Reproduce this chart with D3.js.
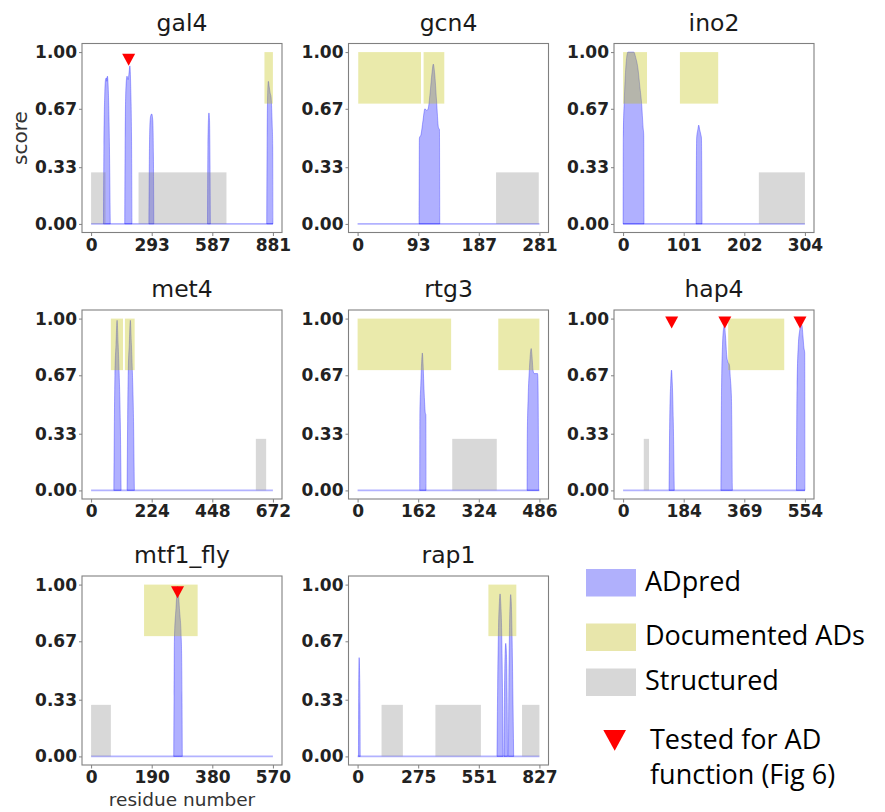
<!DOCTYPE html>
<html>
<head>
<meta charset="utf-8">
<script src="https://cdn.jsdelivr.net/npm/d3@7"></script>
<style>
  body { margin: 0; background: #fff; }
  svg { display: block; }
</style>
</head>
<body>
<svg id="chart" width="885" height="812"></svg>
<script>
// ---- data -------------------------------------------------------------
const proteins = ["gal4", "gcn4", "ino2", "met4", "rtg3", "hap4", "mtf1_fly", "rap1"];
const lengths  = [881, 281, 304, 672, 486, 554, 570, 827];

// ADpred score peaks, [residue, score]; outside the peaks the score is 0
const gal4Pred = [
  [[60,0],[62,0.45],[66,0.75],[70,0.84],[74,0.85],[76,0.83],[79,0.86],[84,0.76],[89,0.45],[93,0]],
  [[163,0],[165,0.5],[169,0.8],[174,0.86],[179,0.84],[183,0.87],[188,0.92],[192,0.8],[196,0.5],[198,0]],
  [[280,0],[282,0.35],[285,0.58],[289,0.63],[294,0.64],[299,0.6],[302,0.4],[304,0]],
  [[564,0],[566,0.45],[569,0.62],[571,0.646],[574,0.6],[576,0.4],[578,0]],
  [[851,0],[853,0.5],[856,0.78],[859,0.83],[863,0.8],[868,0.76],[872,0.74],[877,0.6],[880,0.45],[881,0]]
];
const gcn4Pred = [
  [[95,0],[95.5,0.5],[98,0.52],[101,0.6],[104,0.67],[107,0.66],[109,0.67],[112,0.76],[115,0.88],[117,0.93],[119,0.88],[122,0.72],[125,0.56],[126.5,0.55],[127,0]]
];
const ino2Pred = [
  [[0,0],[0.3,0.5],[2,0.72],[4,0.88],[6,0.97],[8,1.0],[18,1.0],[21,0.97],[25,0.9],[28,0.8],[31,0.7],[33.5,0.56],[34.5,0.52],[35,0]],
  [[122,0],[123,0.5],[125,0.55],[126.5,0.575],[128,0.55],[130,0.52],[131,0.5],[132,0]]
];
const met4Pred = [
  [[84,0],[86,0.4],[88,0.67],[92,0.85],[96,0.99],[100,0.85],[104,0.67],[108,0.4],[111,0]],
  [[133,0],[135,0.4],[137,0.67],[141,0.85],[145,0.99],[149,0.85],[153,0.67],[157,0.4],[160,0]]
];
const rtg3Pred = [
  [[166,0],[166.5,0.45],[169,0.62],[171,0.74],[173,0.8],[175,0.74],[177,0.62],[179,0.52],[181,0.45],[182.5,0.44],[183,0]],
  [[453,0],[453.5,0.3],[456,0.55],[459,0.7],[462,0.8],[464,0.826],[466,0.79],[469,0.7],[472,0.68],[481,0.68],[482,0.65],[484,0]]
];
const hap4Pred = [
  [[140,0],[142,0.4],[145,0.62],[147.5,0.7],[150,0.62],[153,0.4],[156,0]],
  [[298,0],[300,0.6],[303,0.85],[306,0.94],[309,0.96],[312,0.9],[316,0.78],[319,0.75],[324,0.73],[327,0.65],[330,0.55],[333,0]],
  [[528,0],[530,0.6],[534,0.85],[538,0.93],[542,0.965],[545,0.96],[548,0.9],[551,0.83],[553.5,0.8],[554,0]]
];
const mtf1Pred = [
  [[259,0],[260,0.35],[261,0.67],[266,0.86],[271.5,0.99],[277,0.86],[283,0.67],[285,0.35],[286,0]]
];
const rap1Pred = [
  [[4,0],[5,0.4],[7,0.575],[9,0.5],[11,0.3],[12,0]],
  [[634,0],[637,0.4],[641,0.75],[645,0.9],[648,0.946],[651,0.9],[655,0.75],[659,0.4],[662,0]],
  [[666,0],[668,0.35],[671,0.6],[674,0.658],[677,0.6],[680,0.35],[682,0]],
  [[686,0],[688,0.4],[691,0.75],[694,0.9],[696.5,0.942],[699,0.9],[702,0.75],[706,0.4],[710,0]]
];

// documented activation domains, [start, end] residues
const gal4Documented = [[840, 881]];
const gcn4Documented = [[1, 98], [102, 134]];
const ino2Documented = [[0, 40], [95, 159]];
const met4Documented = [[73, 118], [125, 161]];
const rtg3Documented = [[0, 250], [376, 486]];
const hap4Documented = [[320, 491]];
const mtf1Documented = [[166, 334]];
const rap1Documented = [[595, 722]];

// structured regions, [start, end] residues
const gal4Structured = [[0, 70], [230, 656]];
const gcn4Structured = [[214, 280]];
const ino2Structured = [[227, 304]];
const met4Structured = [[609, 647]];
const rtg3Structured = [[253, 372]];
const hap4Structured = [[63, 79]];
const mtf1Structured = [[0, 62]];
const rap1Structured = [[109, 206], [354, 561], [748, 827]];

// fragments tested for AD function, [residue, marker height]
const gal4Tested = [[182, 0.955]];
const hap4Tested = [[148, 0.977], [310, 0.977], [539, 0.977]];
const mtf1Tested = [[271, 0.955]];

const docBand = [0.7, 1.0];
const structBand = [0, 0.3];
const yTicks = [0, 0.33, 0.67, 1.0];

const legendLabels = ["ADpred", "Documented ADs", "Structured"];
const testedLabel = ["Tested for AD", "function (Fig 6)"];

const predSeries = [gal4Pred, gcn4Pred, ino2Pred, met4Pred, rtg3Pred, hap4Pred, mtf1Pred, rap1Pred];
const documentedSeries = [gal4Documented, gcn4Documented, ino2Documented, met4Documented, rtg3Documented, hap4Documented, mtf1Documented, rap1Documented];
const structuredSeries = [gal4Structured, gcn4Structured, ino2Structured, met4Structured, rtg3Structured, hap4Structured, mtf1Structured, rap1Structured];
const testedSeries = [gal4Tested, [], [], [], [], hap4Tested, mtf1Tested, []];

// ---- layout -----------------------------------------------------------
const colLeft = [82, 348.5, 614];
const rowTop = [43.5, 310, 576];
const panelW = 200, panelH = 189;

const BLUE = "#0000ff";
const tickFont = "'DejaVu Sans', sans-serif";

const svg = d3.select("#chart");

proteins.forEach((name, i) => {
  const L = lengths[i];
  const left = colLeft[i % 3], top = rowTop[Math.floor(i / 3)];
  const x = d3.scaleLinear().domain([-0.05 * L, 1.05 * L]).range([left, left + panelW]);
  const y = d3.scaleLinear().domain([-0.05, 1.05]).range([top + panelH, top]);
  const g = svg.append("g").attr("class", "panel");

  // predicted AD score
  const area = d3.area().x(d => x(d[0])).y0(y(0)).y1(d => y(d[1])).curve(d3.curveMonotoneX);
  g.selectAll("path.pred").data(predSeries[i]).join("path")
    .attr("class", "pred")
    .attr("d", area)
    .attr("fill", BLUE).attr("fill-opacity", 0.31)
    .attr("stroke", BLUE).attr("stroke-opacity", 0.3).attr("stroke-width", 1);
  g.append("line")
    .attr("x1", x(0)).attr("x2", x(L)).attr("y1", y(0)).attr("y2", y(0))
    .attr("stroke", BLUE).attr("stroke-opacity", 0.3).attr("stroke-width", 1.6);

  // structured regions
  g.selectAll("rect.struct").data(structuredSeries[i]).join("rect")
    .attr("class", "struct")
    .attr("x", d => x(d[0])).attr("width", d => x(d[1]) - x(d[0]))
    .attr("y", y(structBand[1])).attr("height", y(structBand[0]) - y(structBand[1]))
    .attr("fill", "#808080").attr("fill-opacity", 0.31);

  // documented ADs
  g.selectAll("rect.doc").data(documentedSeries[i]).join("rect")
    .attr("class", "doc")
    .attr("x", d => x(d[0])).attr("width", d => x(d[1]) - x(d[0]))
    .attr("y", y(docBand[1])).attr("height", y(docBand[0]) - y(docBand[1]))
    .attr("fill", "#bfbf00").attr("fill-opacity", 0.33);

  // tested fragments
  g.selectAll("path.tested").data(testedSeries[i]).join("path")
    .attr("class", "tested")
    .attr("d", d => {
      const cx = x(d[0]), cy = y(d[1]);
      return `M${cx - 6.5},${cy - 6}L${cx + 6.5},${cy - 6}L${cx},${cy + 6}Z`;
    })
    .attr("fill", "#ff0000");

  // frame
  g.append("rect")
    .attr("x", left).attr("y", top).attr("width", panelW).attr("height", panelH)
    .attr("fill", "none").attr("stroke", "#808080").attr("stroke-width", 1.1);

  // axes
  const xAxis = d3.axisBottom(x)
    .tickValues([0, L / 3, 2 * L / 3, L])
    .tickFormat(d => String(Math.floor(d + 1e-9)))
    .tickSize(3.5).tickPadding(2.8);
  const yAxis = d3.axisLeft(y)
    .tickValues(yTicks)
    .tickFormat(d3.format(".2f"))
    .tickSize(3).tickPadding(2);

  const gx = g.append("g").attr("transform", `translate(0,${top + panelH})`).call(xAxis);
  const gy = g.append("g").attr("transform", `translate(${left},0)`).call(yAxis);
  [gx, gy].forEach(a => {
    a.select(".domain").remove();
    a.selectAll(".tick line").attr("stroke", "#808080");
    a.selectAll(".tick text")
      .attr("fill", "#222")
      .style("font-family", tickFont)
      .style("font-weight", "bold")
      .style("font-size", "17px");
  });

  // title
  g.append("text")
    .attr("x", left + panelW / 2).attr("y", top - 13)
    .attr("text-anchor", "middle")
    .style("font-family", tickFont).style("font-size", "23.5px")
    .attr("fill", "#1a1a1a")
    .text(name);
});

// axis labels
svg.append("text")
  .attr("transform", `translate(27,${rowTop[0] + panelH / 2}) rotate(-90)`)
  .attr("text-anchor", "middle")
  .style("font-family", tickFont).style("font-size", "20px")
  .attr("fill", "#333")
  .text("score");
svg.append("text")
  .attr("x", colLeft[0] + panelW / 2).attr("y", 806)
  .attr("text-anchor", "middle")
  .style("font-family", tickFont).style("font-size", "18.5px")
  .attr("fill", "#333")
  .text("residue number");

// ---- legend -----------------------------------------------------------
const legendFont = "'Open Sans', sans-serif";
const swatchColors = ["#b0b0fc", "#e8e6ab", "#d7d7d7"];
const swatchTop = [569, 623.5, 668.5];
const lg = svg.append("g").attr("class", "legend");
legendLabels.forEach((lab, k) => {
  lg.append("rect")
    .attr("x", 586).attr("y", swatchTop[k]).attr("width", 50).attr("height", 27.5)
    .attr("fill", swatchColors[k]);
  lg.append("text")
    .attr("x", 645).attr("y", swatchTop[k] + 21.5)
    .style("font-family", legendFont).style("font-size", "27px")
    .attr("fill", "#000")
    .text(lab);
});
lg.append("path")
  .attr("d", "M603.3,730L626,730L614.7,750.7Z")
  .attr("fill", "#ff0000");
testedLabel.forEach((t, k) => {
  lg.append("text")
    .attr("x", 650).attr("y", 748.5 + k * 35)
    .style("font-family", legendFont).style("font-size", "27px")
    .attr("fill", "#000")
    .text(t);
});
</script>
</body>
</html>
